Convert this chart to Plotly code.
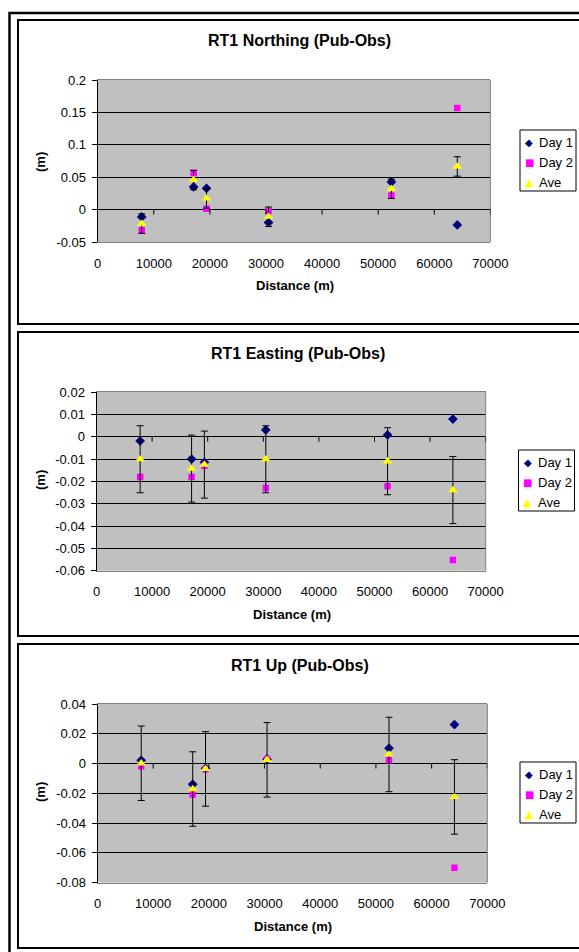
import plotly.graph_objects as go

W, H = 579, 952
PAGE_OFFSET = 0  # body margin removed below, so figure pixels == page pixels

# ---------------- data ----------------
distance = [7850, 17100, 19400, 30450, 52350, 64100]

north_day1 = [-0.0114, 0.0349, 0.0329, -0.0200, 0.0426, -0.0237]
north_day2 = [-0.0320, 0.0565, 0.0015, -0.0020, 0.0216, 0.1568]
north_ave = [-0.0217, 0.0457, 0.0172, -0.0110, 0.0321, 0.0666]
north_err = [0.015, 0.015, 0.015, 0.015, 0.015, 0.015]

east_day1 = [-0.0019, -0.0100, -0.0115, 0.0030, 0.0008, 0.0079]
east_day2 = [-0.0180, -0.0180, -0.0130, -0.0230, -0.0222, -0.0552]
east_ave = [-0.0101, -0.0143, -0.0125, -0.0101, -0.0110, -0.0239]
east_err = [0.015, 0.015, 0.015, 0.015, 0.015, 0.015]

up_day1 = [0.0022, -0.0139, -0.0032, 0.0029, 0.0103, 0.0262]
up_day2 = [-0.0018, -0.0207, -0.0038, 0.0031, 0.0022, -0.0700]
up_ave = [0.0002, -0.0171, -0.0036, 0.0025, 0.0061, -0.0224]
up_err = [0.025, 0.025, 0.025, 0.025, 0.025, 0.025]

x_ticks = [0, 10000, 20000, 30000, 40000, 50000, 60000, 70000]
x_ticktext = ["0", "10000", "20000", "30000", "40000", "50000", "60000", "70000"]

north_yticks = [-0.05, 0, 0.05, 0.1, 0.15, 0.2]
north_yticktext = ["-0.05", "0", "0.05", "0.1", "0.15", "0.2"]
east_yticks = [-0.06, -0.05, -0.04, -0.03, -0.02, -0.01, 0, 0.01, 0.02]
east_yticktext = ["-0.06", "-0.05", "-0.04", "-0.03", "-0.02", "-0.01", "0", "0.01", "0.02"]
up_yticks = [-0.08, -0.06, -0.04, -0.02, 0, 0.02, 0.04]
up_yticktext = ["-0.08", "-0.06", "-0.04", "-0.02", "0", "0.02", "0.04"]

titles = ["RT1 Northing (Pub-Obs)", "RT1 Easting (Pub-Obs)", "RT1 Up (Pub-Obs)"]
series_names = ["Day 1", "Day 2", "Ave"]
series_colors = ["#000080", "#FF00FF", "#FFFF00"]
series_symbols = ["diamond", "square", "triangle-up"]
legend_glyphs = ["\u25C6", "\u25A0", "\u25B2"]
x_title = "Distance (m)"
y_title = "(m)"

# ---------------- layout geometry (page pixels) ----------------
FONT = "Liberation Sans, Arial, sans-serif"
panels = [
    dict(plot=(97.7, 490.4, 80, 242), box=(18, 20, 324), title=(299, 41), xt=(295, 285), yt=(40, 162),
         legend=(520, 130), yr=(-0.05, 0.2)),
    dict(plot=(96.5, 485.7, 392, 570.7), box=(18, 332, 636), title=(298, 353), xt=(292, 614), yt=(40, 480),
         legend=(518.5, 450), yr=(-0.06, 0.02)),
    dict(plot=(97.5, 487.3, 704, 882.7), box=(18, 644, 948), title=(300, 665), xt=(293, 926), yt=(40, 792),
         legend=(520, 762), yr=(-0.08, 0.04)),
]
data_sets = [
    (north_day1, north_day2, north_ave, north_err, north_yticks, north_yticktext),
    (east_day1, east_day2, east_ave, east_err, east_yticks, east_yticktext),
    (up_day1, up_day2, up_ave, up_err, up_yticks, up_yticktext),
]
LEG_W, LEG_H, LEG_ROW, LEG_FIRST, LEG_SYM_X, LEG_TXT_X = 56, 61, 20, 12, 9, 17

fig = go.Figure()
shapes = []
annotations = []
layout = {}

def px(x):
    return (x - PAGE_OFFSET) / W

def py(y):
    return 1 - (y - PAGE_OFFSET) / H

# outer border
shapes.append(dict(type="rect", xref="paper", yref="paper", x0=px(9.5), x1=1.02, y0=-0.02, y1=py(13),
                   line=dict(color="black", width=2.5), fillcolor="rgba(0,0,0,0)", layer="above"))

for i, (p, d) in enumerate(zip(panels, data_sets)):
    k = "" if i == 0 else str(i + 1)
    day1, day2, ave, err, yt, ytt = d
    l, r, t, b = p["plot"]
    xa, ya = "x" + k, "y" + k

    fig.add_trace(go.Scatter(x=distance, y=day1, mode="markers", name=series_names[0], xaxis=xa, yaxis=ya,
                             showlegend=False,
                             marker=dict(symbol=series_symbols[0], size=7.5, color=series_colors[0],
                                         line=dict(width=0))))
    fig.add_trace(go.Scatter(x=distance, y=day2, mode="markers", name=series_names[1], xaxis=xa, yaxis=ya,
                             showlegend=False,
                             marker=dict(symbol=series_symbols[1], size=6.5, color=series_colors[1],
                                         line=dict(width=0))))
    fig.add_trace(go.Scatter(x=distance, y=ave, mode="markers", name=series_names[2], xaxis=xa, yaxis=ya,
                             showlegend=False,
                             marker=dict(symbol=series_symbols[2], size=8.5, color=series_colors[2],
                                         line=dict(width=0)),
                             error_y=dict(type="data", array=err, visible=True, color="black",
                                          thickness=1, width=3.5)))

    layout["xaxis" + k] = dict(domain=[px(l), px(r)], range=[0, 70000], anchor=ya,
                               tickvals=x_ticks, ticktext=x_ticktext, ticks="", showgrid=False,
                               zeroline=False, showline=True, linecolor="#808080", linewidth=1, mirror=True,
                               tickfont=dict(size=13, family=FONT, color="black"), ticklabelstandoff=9,
                               automargin=False, fixedrange=True)
    layout["yaxis" + k] = dict(domain=[py(b), py(t)], range=list(p["yr"]), anchor=xa,
                               tickvals=yt, ticktext=ytt, ticks="outside", ticklen=5, tickcolor="black",
                               showgrid=True, gridcolor="black", gridwidth=1,
                               zeroline=True, zerolinecolor="black", zerolinewidth=1,
                               showline=True, linecolor="black", linewidth=1,
                               tickfont=dict(size=13, family=FONT, color="black"), ticklabelstandoff=3,
                               automargin=False, fixedrange=True)

    # chart box
    bx, bt, bb = p["box"]
    shapes.append(dict(type="rect", xref="paper", yref="paper", x0=px(bx), x1=1.02, y0=py(bb), y1=py(bt),
                       line=dict(color="black", width=2), fillcolor="rgba(0,0,0,0)", layer="above"))
    # right plot border (gray)
    shapes.append(dict(type="line", xref=xa + " domain", yref=ya + " domain", x0=1, x1=1, y0=0, y1=1,
                       line=dict(color="#808080", width=1), layer="above"))
    # x tick marks on the zero line
    for tv in x_ticks[1:]:
        shapes.append(dict(type="line", xref=xa, yref=ya, x0=tv, x1=tv, ysizemode="pixel", yanchor=0,
                           y0=-5, y1=0, line=dict(color="black", width=1), layer="above"))

    # legend (box, symbols, labels)
    lx, ly = p["legend"]
    shapes.append(dict(type="rect", xref="paper", yref="paper", x0=px(lx), x1=px(lx + LEG_W),
                       y0=py(ly + LEG_H), y1=py(ly), line=dict(color="black", width=1),
                       fillcolor="white", layer="above"))
    for j, name in enumerate(series_names):
        yy = ly + LEG_FIRST + j * LEG_ROW
        annotations.append(dict(text=legend_glyphs[j], xref="paper", yref="paper",
                                x=px(lx + LEG_SYM_X), y=py(yy), xanchor="center", yanchor="middle",
                                showarrow=False,
                                font=dict(size=10 if j != 2 else 11, family="DejaVu Sans",
                                          color=series_colors[j])))
        annotations.append(dict(text=name, xref="paper", yref="paper",
                                x=px(lx + LEG_TXT_X), y=py(yy), xanchor="left", yanchor="middle",
                                showarrow=False, font=dict(size=13, family=FONT, color="black")))

    annotations.append(dict(text="<b>" + titles[i] + "</b>", xref="paper", yref="paper",
                            x=px(p["title"][0]), y=py(p["title"][1]), xanchor="center", yanchor="middle",
                            showarrow=False, font=dict(size=16, family=FONT, color="black")))
    annotations.append(dict(text="<b>" + x_title + "</b>", xref="paper", yref="paper",
                            x=px(p["xt"][0]), y=py(p["xt"][1]), xanchor="center", yanchor="middle",
                            showarrow=False, font=dict(size=13, family=FONT, color="black")))
    annotations.append(dict(text="<b>" + y_title + "</b>", xref="paper", yref="paper",
                            x=px(p["yt"][0]), y=py(p["yt"][1]), xanchor="center", yanchor="middle",
                            showarrow=False, textangle=-90, font=dict(size=13, family=FONT, color="black")))

fig.update_layout(width=W, height=H, margin=dict(l=0, r=0, t=0, b=0, autoexpand=False),
                  paper_bgcolor="white",
                  plot_bgcolor="#C0C0C0", font=dict(family=FONT, size=13, color="black"),
                  shapes=shapes, annotations=annotations, showlegend=False, **layout)

fig.write_html("out.html",
               config={"displayModeBar": False},
               post_script="document.body.style.margin='0';document.body.style.overflow='hidden';")
